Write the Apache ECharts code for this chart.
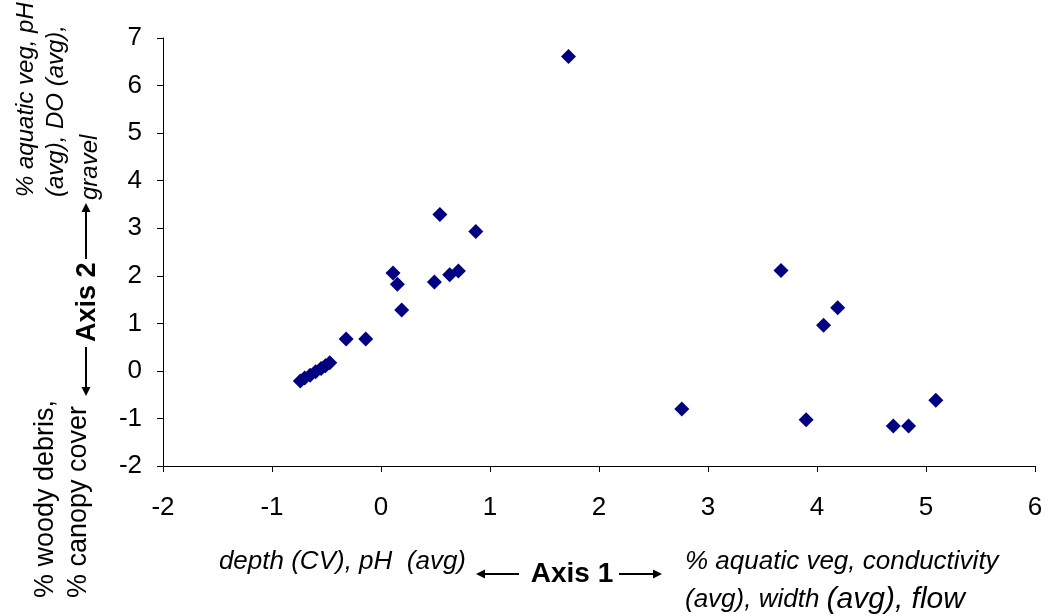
<!DOCTYPE html>
<html>
<head>
<meta charset="utf-8">
<script src="https://cdn.jsdelivr.net/npm/echarts@6/dist/echarts.min.js"></script>
<style>
  html, body { margin: 0; padding: 0; background: #ffffff; }
  #chart { width: 1048px; height: 615px; }
</style>
</head>
<body>
<div id="chart"></div>
<script>
// Ordination site scores (Axis 1 vs Axis 2)
const axis1Scores = [1.72, 0.54, 0.87, 3.67, 0.11, 0.15, 0.19, 0.49, 0.63, 0.71,
                     4.19, 4.06, -0.32, -0.14, -0.74, -0.70, -0.65, -0.60, -0.55, -0.51,
                     -0.47, 2.76, 3.90, 4.70, 4.84, 5.09];
const axis2Scores = [6.61, 3.29, 2.93, 2.11, 2.06, 1.82, 1.28, 1.87, 2.02, 2.10,
                     1.33, 0.96, 0.67, 0.67, -0.21, -0.15, -0.09, -0.02, 0.05, 0.11,
                     0.17, -0.80, -1.03, -1.16, -1.16, -0.62];

// Axis ranges and tick steps
const xRange = [-2, 6];
const yRange = [-2, 7];
const tickStep = 1;

const points = axis1Scores.map((v, i) => [v, axis2Scores[i]]);

const FONT = '"Liberation Sans", Arial, sans-serif';
const INK = '#000000';

const chart = echarts.init(document.getElementById('chart'), null, { renderer: 'canvas' });

// arrow drawn as a shaft plus a filled head
function arrow(x1, y1, x2, y2) {
  const ang = Math.atan2(y2 - y1, x2 - x1);
  const len = 9, half = 4.5;
  const bx = x2 - len * Math.cos(ang), by = y2 - len * Math.sin(ang);
  const px = -Math.sin(ang) * half, py = Math.cos(ang) * half;
  return [
    { type: 'line', shape: { x1: x1, y1: y1, x2: bx, y2: by }, style: { stroke: INK, lineWidth: 2 } },
    { type: 'polygon', shape: { points: [[x2, y2], [bx + px, by + py], [bx - px, by - py]] }, style: { fill: INK } }
  ];
}

// text reading bottom-to-top, starting at (x, y)
function vText(x, y, text, opts) {
  return {
    type: 'text', x: x, y: y, rotation: Math.PI / 2,
    style: Object.assign({
      text: text, fill: INK, fontFamily: FONT, fontSize: 24,
      align: 'left', verticalAlign: 'middle'
    }, opts || {})
  };
}

const graphics = [
  // horizontal axis title
  { type: 'text', x: 466, y: 562, style: { text: 'depth (CV), pH  (avg)', fill: INK, fontFamily: FONT, fontSize: 26, fontStyle: 'italic', align: 'right', verticalAlign: 'middle' } },
  { type: 'text', x: 572, y: 574, style: { text: 'Axis 1', fill: INK, fontFamily: FONT, fontSize: 28, fontWeight: 'bold', align: 'center', verticalAlign: 'middle' } },
  ...arrow(519, 574, 476, 574),
  ...arrow(619, 574, 662, 574),
  { type: 'text', x: 685, y: 562, style: { text: '% aquatic veg, conductivity', fill: INK, fontFamily: FONT, fontSize: 26, fontStyle: 'italic', align: 'left', verticalAlign: 'middle' } },
  { type: 'text', x: 685, y: 600, style: {
      text: '{s|(avg), width }{l|(avg), flow}', fill: INK, align: 'left', verticalAlign: 'middle',
      rich: {
        s: { fontFamily: FONT, fontSize: 26, fontStyle: 'italic', fill: INK },
        l: { fontFamily: FONT, fontSize: 30, fontStyle: 'italic', fill: INK }
      }
  } },

  // vertical axis title
  vText(26, 197, '% aquatic veg, pH', { fontStyle: 'italic' }),
  vText(56, 197, '(avg), DO (avg),', { fontStyle: 'italic' }),
  vText(90, 200, 'gravel', { fontStyle: 'italic' }),
  vText(88, 342, 'Axis 2', { fontSize: 27, fontWeight: 'bold' }),
  ...arrow(86, 259, 86, 203),
  ...arrow(86, 347, 86, 396),
  vText(46, 598, '% woody debris,', { fontSize: 27 }),
  vText(79, 598, '% canopy cover', { fontSize: 27 })
];

chart.setOption({
  animation: false,
  backgroundColor: '#ffffff',
  grid: { left: 163, right: 13, top: 38, bottom: 149, containLabel: false },
  xAxis: {
    type: 'value', min: xRange[0], max: xRange[1], interval: tickStep,
    axisLine: { show: true, onZero: false, lineStyle: { color: INK, width: 1 } },
    axisTick: { show: true, inside: false, length: 6, lineStyle: { color: INK } },
    axisLabel: { color: INK, fontFamily: FONT, fontSize: 26, margin: 29 },
    splitLine: { show: false }
  },
  yAxis: {
    type: 'value', min: yRange[0], max: yRange[1], interval: tickStep,
    axisLine: { show: true, onZero: false, lineStyle: { color: INK, width: 1 } },
    axisTick: { show: true, inside: false, length: 6, lineStyle: { color: INK } },
    axisLabel: { color: INK, fontFamily: FONT, fontSize: 26, margin: 21 },
    splitLine: { show: false }
  },
  series: [{
    type: 'scatter',
    data: points,
    symbol: 'diamond',
    symbolSize: 15,
    itemStyle: { color: '#000080', opacity: 1 }
  }],
  graphic: graphics
});
</script>
</body>
</html>
